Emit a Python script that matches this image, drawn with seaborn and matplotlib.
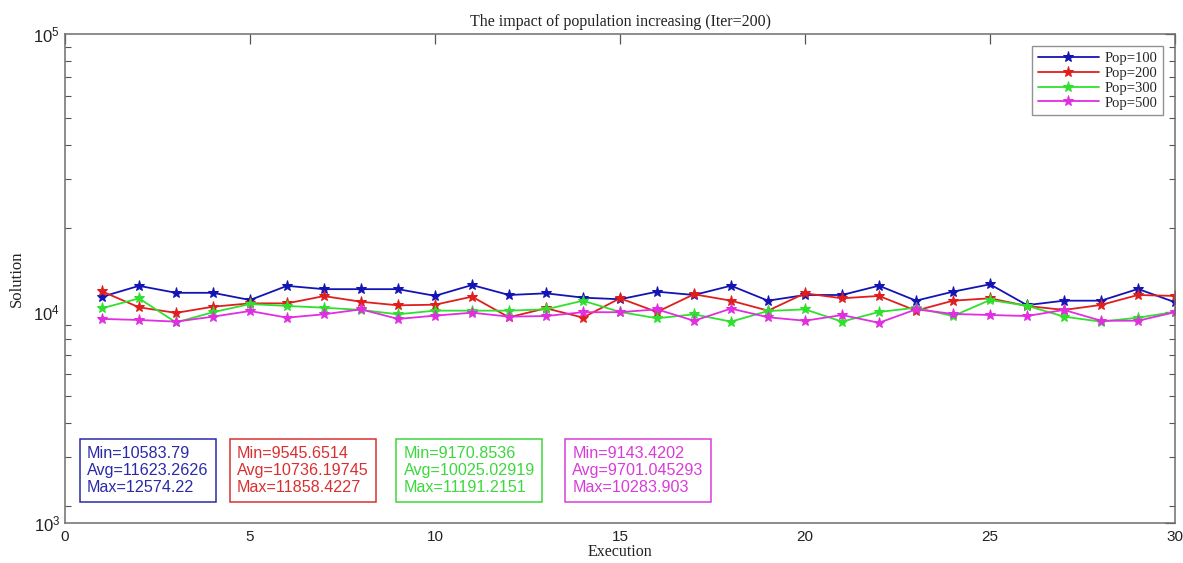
import numpy as np
import pandas as pd
import matplotlib
matplotlib.use("Agg")
import matplotlib.pyplot as plt
import matplotlib.ticker as mticker
import seaborn as sns

# ---- data -------------------------------------------------------------
execution = list(range(1, 31))

pop100 = [11340, 12416, 11720, 11720, 11040, 12416, 12080, 12080, 12080, 11430,
          12500, 11510, 11670, 11260, 11110, 11830, 11510, 12430, 10980, 11510,
          11510, 12430, 10980, 11830, 12574.22, 10583.79, 10980, 10980, 12100, 10840]
pop200 = [11858.4227, 10393, 9925, 10445, 10740, 10740, 11405, 10883, 10566, 10620,
          11350, 9570, 10310, 9545.6514, 11200, 10000, 11580, 10980, 10110, 11670,
          11200, 11420, 10110, 10980, 11200, 10510, 10170, 10600, 11510, 11420]
pop300 = [10310, 11191.2151, 9170.8536, 9980, 10680, 10510, 10360, 10170, 9810, 10110,
          10110, 10110, 10220, 10980, 10000, 9490, 9810, 9230, 10080, 10220,
          9230, 10000, 10360, 9670, 11040, 10530, 9620, 9230, 9540, 10000]
pop500 = [9440, 9360, 9230, 9620, 10080, 9540, 9810, 10220, 9440, 9700,
          9940, 9620, 9670, 9980, 9980, 10220, 9300, 10283.903, 9570, 9300,
          9750, 9143.4202, 10220, 9840, 9750, 9670, 10170, 9300, 9300, 9980]

series_labels = ["Pop=100", "Pop=200", "Pop=300", "Pop=500"]
series_values = [pop100, pop200, pop300, pop500]

stats_text = [
    ["Min=10583.79", "Avg=11623.2626", "Max=12574.22"],
    ["Min=9545.6514", "Avg=10736.19745", "Max=11858.4227"],
    ["Min=9170.8536", "Avg=10025.02919", "Max=11191.2151"],
    ["Min=9143.4202", "Avg=9701.045293", "Max=10283.903"],
]

x_ticks = [0, 5, 10, 15, 20, 25, 30]
y_major = [1e3, 1e4, 1e5]

# ---- styling ----------------------------------------------------------
line_colors = ["#1414b4", "#e01e1e", "#2fe02f", "#e02ee0"]
text_colors = ["#2a2aa8", "#d83030", "#3cd83c", "#d83cd8"]

sns.set_style("white")
plt.rcParams["font.family"] = ["Liberation Sans", "DejaVu Sans"]
plt.rcParams["mathtext.fontset"] = "custom"
plt.rcParams["mathtext.rm"] = "Liberation Sans"
plt.rcParams["mathtext.it"] = "Liberation Sans"
serif = ["Liberation Serif", "DejaVu Serif"]

fig = plt.figure(figsize=(11.83, 5.63), dpi=100)
ax = fig.add_axes([65 / 1183, 1 - 523 / 563, 1110 / 1183, 489 / 563])

# log axis whose lowest decade portion (1000-2000) is compressed
L2 = np.log10(2000.0)
K = 0.2


def fwd(y):
    ly = np.log10(np.clip(np.asarray(y, dtype=float), 1e-300, None))
    return np.where(ly >= L2, ly, L2 + (ly - L2) * K)


def inv(t):
    t = np.asarray(t, dtype=float)
    return np.where(t >= L2, 10 ** t, 10 ** (L2 + (t - L2) / K))


ax.set_yscale("function", functions=(fwd, inv))

df = pd.DataFrame({"Execution": execution})
for lab, vals, col in zip(series_labels, series_values, line_colors):
    df[lab] = vals
    sns.lineplot(data=df, x="Execution", y=lab, ax=ax, color=col, label=lab,
                 marker="*", markersize=8, markeredgecolor=col,
                 markerfacecolor=col, linewidth=1.3)

ax.set_xlim(0, 30)
ax.set_ylim(1e3, 1e5)
ax.set_xticks(x_ticks)
ax.set_xticklabels([str(v) for v in x_ticks])
ax.yaxis.set_major_locator(mticker.FixedLocator(y_major))
ax.yaxis.set_major_formatter(mticker.FuncFormatter(
    lambda v, p: r"$10^{%d}$" % int(round(np.log10(v)))))
ax.yaxis.set_minor_locator(mticker.LogLocator(base=10, subs=np.arange(2, 10)))
ax.yaxis.set_minor_formatter(mticker.NullFormatter())

ax.tick_params(axis="both", which="major", direction="in", length=7, width=0.9,
               colors="#555555", labelcolor="#222222", labelsize=11,
               top=True, right=True)
ax.tick_params(axis="y", which="major", labelsize=12)
ax.tick_params(axis="y", which="minor", direction="in", length=4, width=0.8,
               colors="#555555", left=True, right=True)
ax.tick_params(axis="x", which="major", pad=5)
for s in ax.spines.values():
    s.set_color("#6e6e6e")
    s.set_linewidth(1.1)

ax.set_title("The impact of population increasing (Iter=200)",
             family=serif, fontsize=11.5, color="#222222", pad=6)
ax.set_xlabel("Execution", family=serif, fontsize=11.5, color="#222222", labelpad=0)
ax.set_ylabel("Solution", family=serif, fontsize=12, color="#222222", labelpad=6)

leg = ax.legend(loc="upper right", prop={"family": serif, "size": 10.5},
                frameon=True, fancybox=False, edgecolor="#777777",
                labelspacing=0.12, handlelength=4.2, handletextpad=0.4,
                borderpad=0.35, borderaxespad=0.85)
leg.get_frame().set_linewidth(1.0)

# summary boxes along the bottom
box_lefts = [0.0198, 0.155, 0.305, 0.457]
for left, lines, col in zip(box_lefts, stats_text, text_colors):
    ax.text(left, 0.057, "\n".join(lines), transform=ax.transAxes,
            ha="left", va="bottom", fontsize=11.6, color=col,
            linespacing=1.18,
            bbox=dict(boxstyle="square,pad=0.45", facecolor="white",
                      edgecolor=col, linewidth=1.1))

fig.savefig("out.png", dpi=100)
